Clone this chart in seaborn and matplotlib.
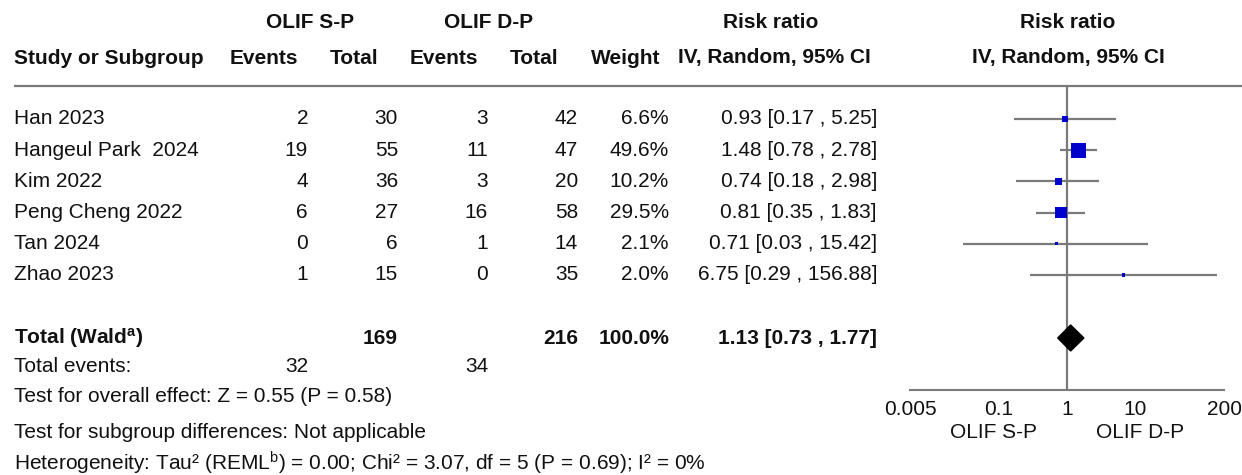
import matplotlib
matplotlib.use("Agg")
import matplotlib.pyplot as plt
import numpy as np
import pandas as pd
import seaborn as sns

# Study-level data
studies = ["Han 2023", "Hangeul Park  2024", "Kim 2022", "Peng Cheng 2022", "Tan 2024", "Zhao 2023"]
sp_events = [2, 19, 4, 6, 0, 1]
sp_total = [30, 55, 36, 27, 6, 15]
dp_events = [3, 11, 3, 16, 1, 0]
dp_total = [42, 47, 20, 58, 14, 35]
weight = [6.6, 49.6, 10.2, 29.5, 2.1, 2.0]
rr = [0.93, 1.48, 0.74, 0.81, 0.71, 6.75]
rr_lo = [0.17, 0.78, 0.18, 0.35, 0.03, 0.29]
rr_hi = [5.25, 2.78, 2.98, 1.83, 15.42, 156.88]

# Pooled estimate
pooled_rr, pooled_lo, pooled_hi = 1.13, 0.73, 1.77
total_sp, total_dp = 169, 216
total_weight = "100.0%"
events_sp, events_dp = 32, 34

axis_ticks = [0.005, 0.1, 1, 10, 200]
axis_ticklabels = ["0.005", "0.1", "1", "10", "200"]
favours = ["OLIF S-P", "OLIF D-P"]

footer = [
    "Test for overall effect: Z = 0.55 (P = 0.58)",
    "Test for subgroup differences: Not applicable",
    "Heterogeneity: Tau\u00b2 (REML$^{b}$) = 0.00; Chi\u00b2 = 3.07, df = 5 (P = 0.69); I\u00b2 = 0%",
]

sns.set_theme(style="white")
plt.rcParams["font.family"] = ["Liberation Sans", "DejaVu Sans"]
plt.rcParams["mathtext.default"] = "regular"
plt.rcParams["mathtext.fontset"] = "custom"
plt.rcParams["mathtext.rm"] = "Liberation Sans"
plt.rcParams["mathtext.bf"] = "Liberation Sans:bold"

W, H = 1242, 475
FS = 15
TXT = "#111111"
GREY = "#7a7a7a"

fig = plt.figure(figsize=(W / 100, H / 100), dpi=100)
ax = fig.add_axes([0, 0, 1, 1])
ax.set_xlim(0, W)
ax.set_ylim(H, 0)
ax.axis("off")

def t(x, y, s, ha="left", bold=False, size=FS):
    ax.text(x, y, s, ha=ha, va="center", fontsize=size, color=TXT,
            fontweight="bold" if bold else "normal")

# Column right edges
c_spe, c_spt, c_dpe, c_dpt, c_w, c_ci = 308, 398, 488, 578, 669, 877

# Header
t(310, 22, "OLIF S-P", ha="center", bold=True)
t(489, 22, "OLIF D-P", ha="center", bold=True)
t(771, 22, "Risk ratio", ha="center", bold=True)
t(1068, 22, "Risk ratio", ha="center", bold=True)
t(14, 58, "Study or Subgroup", bold=True)
t(298, 58, "Events", ha="right", bold=True)
t(378, 58, "Total", ha="right", bold=True)
t(478, 58, "Events", ha="right", bold=True)
t(558, 58, "Total", ha="right", bold=True)
t(660, 58, "Weight", ha="right", bold=True)
t(871, 58, "IV, Random, 95% CI", ha="right", bold=True)
t(1068, 58, "IV, Random, 95% CI", ha="center", bold=True)
ax.hlines(86, 14, W, color=GREY, lw=1.6)

row0, step = 119, 31.2
row_y = [row0 + i * step for i in range(len(studies))]

for i, y in enumerate(row_y):
    t(14, y, studies[i])
    t(c_spe, y, f"{sp_events[i]}", ha="right")
    t(c_spt, y, f"{sp_total[i]}", ha="right")
    t(c_dpe, y, f"{dp_events[i]}", ha="right")
    t(c_dpt, y, f"{dp_total[i]}", ha="right")
    t(c_w, y, f"{weight[i]:.1f}%", ha="right")
    t(c_ci, y, f"{rr[i]:.2f} [{rr_lo[i]:.2f} , {rr_hi[i]:.2f}]", ha="right")

y_tot = 338
t(14, y_tot, "Total (Wald$^{a}$)", bold=True)
t(c_spt, y_tot, f"{total_sp}", ha="right", bold=True)
t(c_dpt, y_tot, f"{total_dp}", ha="right", bold=True)
t(c_w, y_tot, total_weight, ha="right", bold=True)
t(c_ci, y_tot, f"{pooled_rr:.2f} [{pooled_lo:.2f} , {pooled_hi:.2f}]", ha="right", bold=True)

t(14, 366, "Total events:")
t(c_spe, 366, f"{events_sp}", ha="right")
t(c_dpe, 366, f"{events_dp}", ha="right")
for y, s in zip([396, 432, 463], footer):
    t(14, y, s)

# Forest panel on a log axis
x0, x1, ytop, ybot = 910, 1224, 86, 390
fx = fig.add_axes([x0 / W, 1 - ybot / H, (x1 - x0) / W, (ybot - ytop) / H])
fx.set_xscale("log")
fx.set_xlim(axis_ticks[0], axis_ticks[-1])
fx.set_ylim(ybot, ytop)
fx.patch.set_alpha(0)
for side in ["top", "right", "left"]:
    fx.spines[side].set_visible(False)
fx.spines["bottom"].set_color(GREY)
fx.spines["bottom"].set_linewidth(1.5)
fx.set_xticks(axis_ticks)
fx.set_xticklabels(axis_ticklabels)
fx.minorticks_off()
fx.set_yticks([])
fx.tick_params(axis="x", direction="inout", length=8, width=1.2, color=GREY,
               labelsize=FS, labelcolor=TXT, pad=3)
fx.axvline(1, color=GREY, lw=1.6, zorder=1)

fx.hlines(row_y, rr_lo, rr_hi, color=GREY, lw=1.6, zorder=2)
df = pd.DataFrame({"rr": rr, "y": row_y, "weight": weight})
k = 2.4
sns.scatterplot(data=df, x="rr", y="y", size="weight",
                sizes=(k * min(weight), k * max(weight)), marker="s",
                color="#0000cc", linewidth=0, legend=False, ax=fx, zorder=3)
fx.set_xlabel("")
fx.set_ylabel("")
fx.set_yticks([])
half = 13
fx.fill([pooled_lo, pooled_rr, pooled_hi, pooled_rr],
        [y_tot, y_tot - half, y_tot, y_tot + half], color="black", zorder=4)

t(993, 432, favours[0], ha="center")
t(1140, 432, favours[1], ha="center")

fig.savefig("out.png", dpi=100)
